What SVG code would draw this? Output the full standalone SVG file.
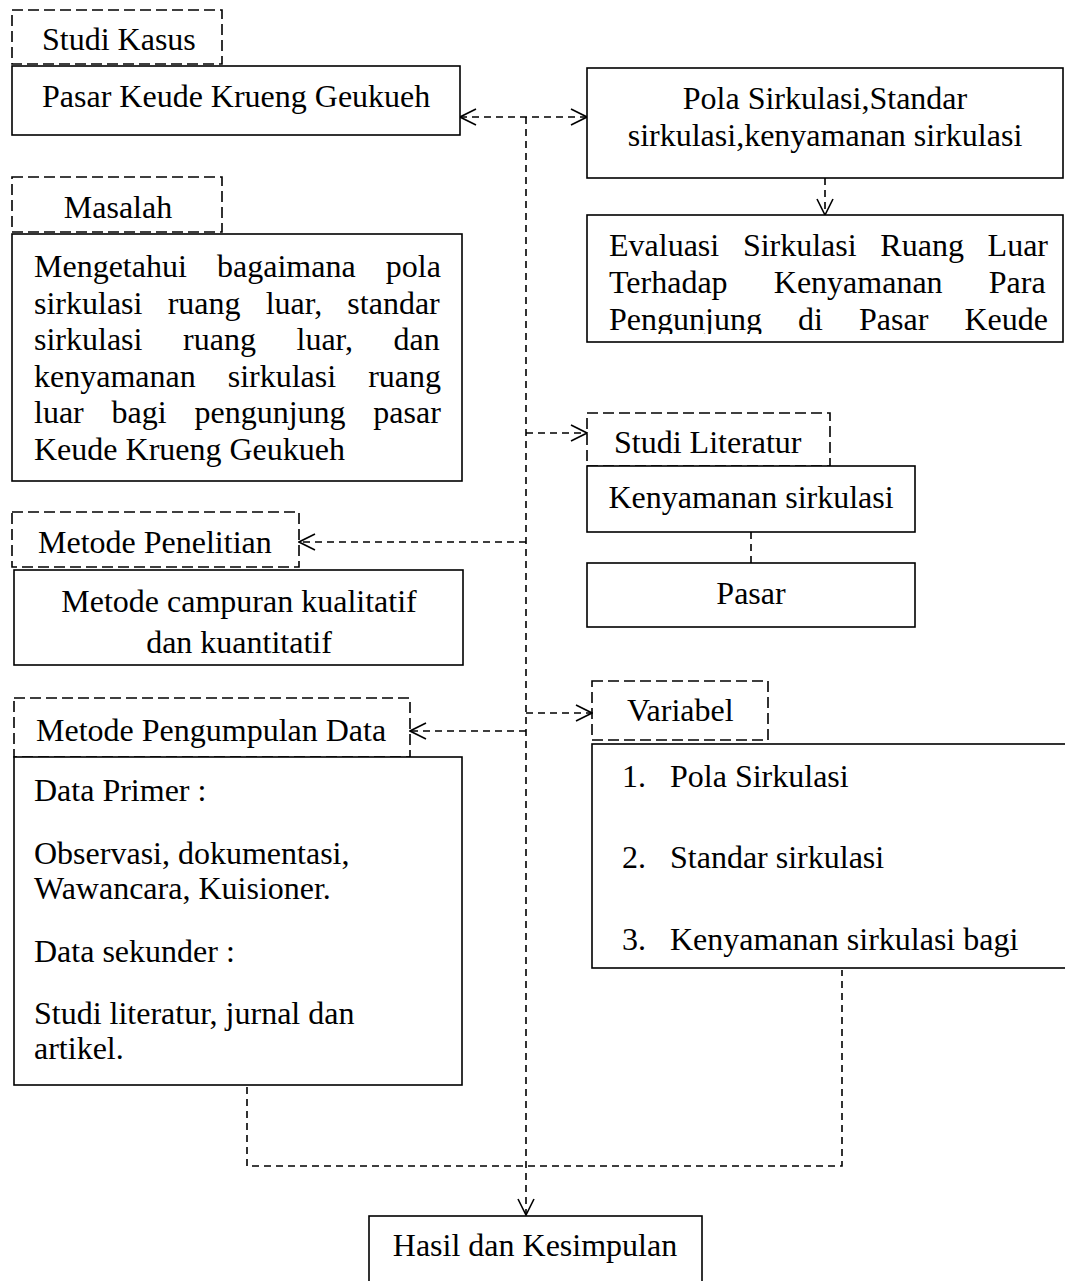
<svg xmlns="http://www.w3.org/2000/svg" width="1065" height="1281" viewBox="0 0 1065 1281">
<style>
text{font-family:"Liberation Serif","Times New Roman",serif;font-size:32px;fill:#000}
.box{fill:#fff;stroke:#000;stroke-width:1.6}
.dbox{fill:none;stroke:#000;stroke-width:1.6;stroke-dasharray:11 5}
.conn{fill:none;stroke:#000;stroke-width:1.6;stroke-dasharray:7 5}
.mid{text-anchor:middle}
</style>
<defs>
<marker id="arr" viewBox="0 0 18 18" refX="17" refY="9" markerWidth="18" markerHeight="18" markerUnits="userSpaceOnUse" orient="auto-start-reverse">
<path d="M1,1 L17,9 L1,17" fill="none" stroke="#000" stroke-width="1.6" stroke-dasharray="none"/>
</marker>
<clipPath id="evalClip"><rect x="587" y="215" width="478" height="119"/></clipPath>
</defs>

<g id="connectors">
<path class="conn" d="M460,117 H587" marker-start="url(#arr)" marker-end="url(#arr)"/>
<path class="conn" d="M526,117 V1215" marker-end="url(#arr)"/>
<path class="conn" d="M825,178 V215" marker-end="url(#arr)"/>
<path class="conn" d="M526,433 H587" marker-end="url(#arr)"/>
<path class="conn" d="M526,542 H299" marker-end="url(#arr)"/>
<path class="conn" d="M526,713 H592" marker-end="url(#arr)"/>
<path class="conn" d="M526,731 H410" marker-end="url(#arr)"/>
<path class="conn" d="M751,532 V563"/>
<path class="conn" d="M247,1087 V1166 H842 V970"/>
</g>

<g id="studi-kasus">
<rect class="dbox" x="12" y="10" width="210" height="54"/>
<text x="42" y="50">Studi Kasus</text>
</g>
<g id="pasar-keude">
<rect class="box" x="12" y="66" width="448" height="69"/>
<text x="42" y="107">Pasar Keude Krueng Geukueh</text>
</g>
<g id="pola-sirkulasi">
<rect class="box" x="587" y="68" width="476" height="110"/>
<text class="mid" x="825" y="109">Pola Sirkulasi,Standar</text>
<text class="mid" x="825" y="146">sirkulasi,kenyamanan sirkulasi</text>
</g>
<g id="evaluasi">
<rect class="box" x="587" y="215" width="476" height="127"/>
<g clip-path="url(#evalClip)">
<text x="609" y="256" word-spacing="15.7">Evaluasi Sirkulasi Ruang Luar</text>
<text x="609" y="293" word-spacing="38.2">Terhadap Kenyamanan Para</text>
<text x="609" y="330" word-spacing="28.1">Pengunjung di Pasar Keude</text>
</g>
</g>
<g id="masalah">
<rect class="dbox" x="12" y="177" width="210" height="55"/>
<text class="mid" x="118" y="218">Masalah</text>
</g>
<g id="masalah-isi">
<rect class="box" x="12" y="234" width="450" height="247"/>
<text x="34" y="277" word-spacing="22.2">Mengetahui bagaimana pola</text>
<text x="34" y="313.5" word-spacing="17.2">sirkulasi ruang luar, standar</text>
<text x="34" y="350" word-spacing="32.6">sirkulasi ruang luar, dan</text>
<text x="34" y="386.5" word-spacing="24">kenyamanan sirkulasi ruang</text>
<text x="34" y="423" word-spacing="19.8">luar bagi pengunjung pasar</text>
<text x="34" y="459.5">Keude Krueng Geukueh</text>
</g>
<g id="studi-literatur">
<rect class="dbox" x="587" y="413" width="243" height="53"/>
<text x="614" y="453">Studi Literatur</text>
</g>
<g id="kenyamanan">
<rect class="box" x="587" y="466" width="328" height="66"/>
<text class="mid" x="751" y="508">Kenyamanan sirkulasi</text>
</g>
<g id="pasar">
<rect class="box" x="587" y="563" width="328" height="64"/>
<text class="mid" x="751" y="604">Pasar</text>
</g>
<g id="metode-penelitian">
<rect class="dbox" x="12" y="512" width="287" height="55"/>
<text x="38" y="553">Metode Penelitian</text>
</g>
<g id="metode-campuran">
<rect class="box" x="14" y="570" width="449" height="95"/>
<text class="mid" x="239" y="612">Metode campuran kualitatif</text>
<text class="mid" x="239" y="653">dan kuantitatif</text>
</g>
<g id="variabel">
<rect class="dbox" x="592" y="681" width="176" height="59"/>
<text x="627" y="721">Variabel</text>
</g>
<g id="variabel-isi">
<rect class="box" x="592" y="744" width="480" height="224"/>
<text x="622" y="787">1.</text><text x="670" y="787">Pola Sirkulasi</text>
<text x="622" y="868">2.</text><text x="670" y="868">Standar sirkulasi</text>
<text x="622" y="950">3.</text><text x="670" y="950">Kenyamanan sirkulasi bagi</text>
</g>
<g id="metode-pengumpulan">
<rect class="dbox" x="14" y="698" width="396" height="59"/>
<text x="36" y="741">Metode Pengumpulan Data</text>
</g>
<g id="data">
<rect class="box" x="14" y="757" width="448" height="328"/>
<text x="34" y="801">Data Primer :</text>
<text x="34" y="864">Observasi, dokumentasi,</text>
<text x="34" y="899">Wawancara, Kuisioner.</text>
<text x="34" y="962">Data sekunder :</text>
<text x="34" y="1024">Studi literatur, jurnal dan</text>
<text x="34" y="1059">artikel.</text>
</g>
<g id="hasil">
<rect class="box" x="369" y="1216" width="333" height="80"/>
<text class="mid" x="535" y="1256">Hasil dan Kesimpulan</text>
</g>
</svg>
